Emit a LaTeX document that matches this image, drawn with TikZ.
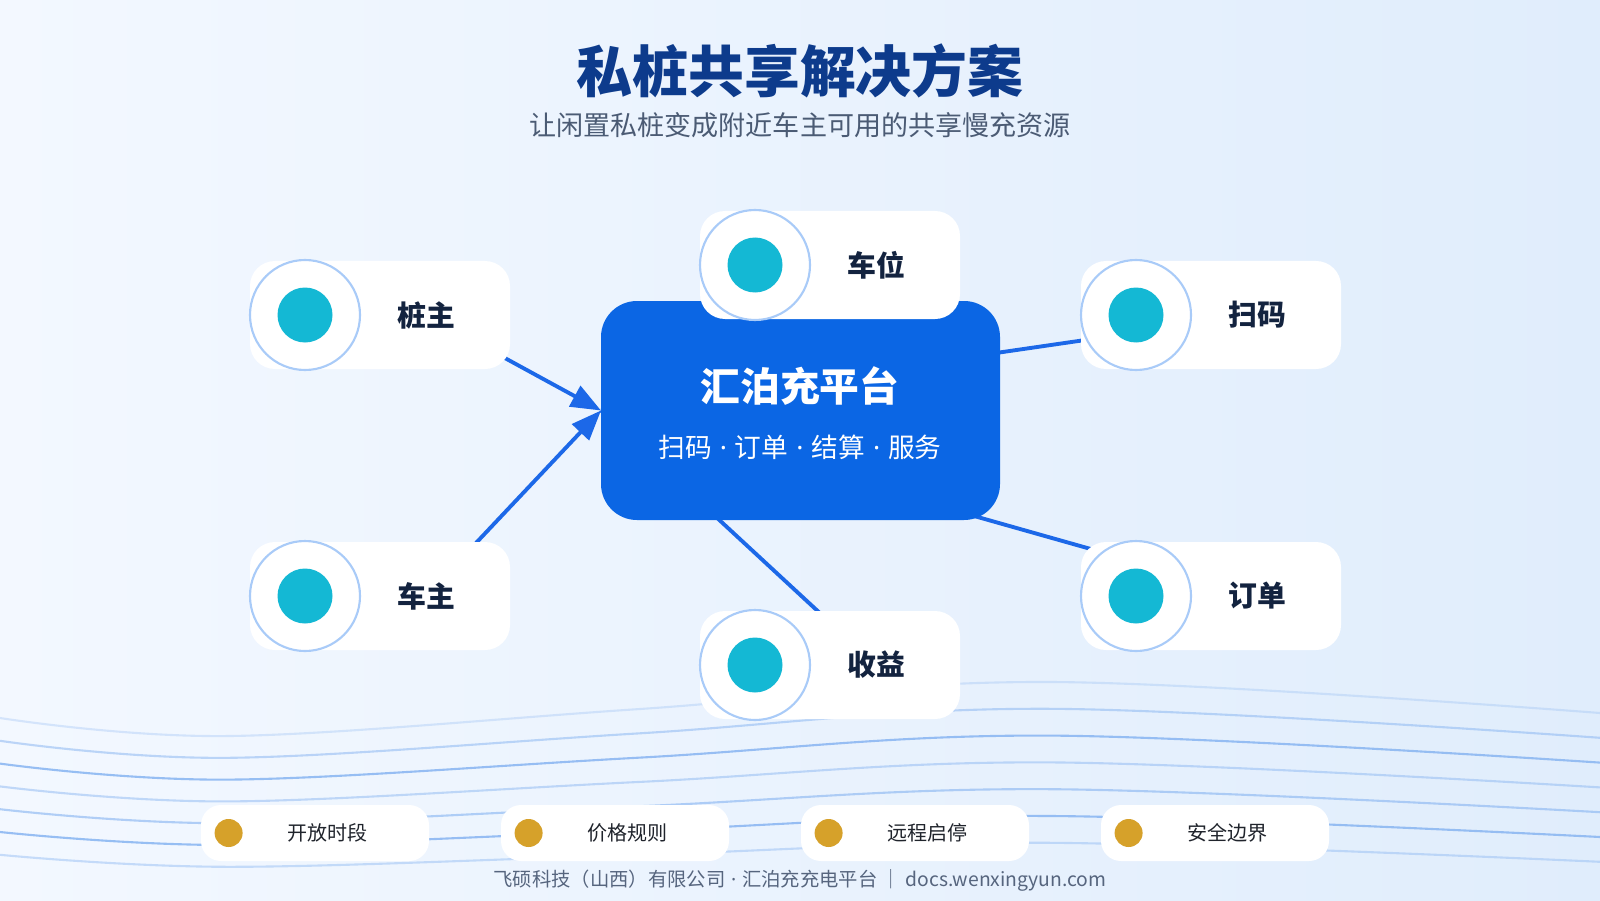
\documentclass[tikz,border=0pt]{standalone}
\usepackage{fontspec}
\setmainfont{Noto Sans CJK SC}
\newfontfamily\heavyfont{Noto Sans CJK SC Black}
\newfontfamily\latinfont{Noto Sans}
\usetikzlibrary{arrows.meta, positioning, calc}
\definecolor{HPnavy}{HTML}{0D3B8C}
\definecolor{HPsub}{HTML}{4B5B74}
\definecolor{HPblue}{HTML}{0B66E4}
\definecolor{HPedge}{HTML}{1C68E8}
\definecolor{HPring}{HTML}{A9CBF8}
\definecolor{HPteal}{HTML}{14B8D4}
\definecolor{HPink}{HTML}{13233F}
\definecolor{HPgold}{HTML}{D6A12A}
\definecolor{HPdark}{HTML}{20242C}
\definecolor{HPfoot}{HTML}{56657E}
\definecolor{HPwave}{HTML}{8DB8F2}
\definecolor{HPbgA}{HTML}{F3F8FF}
\definecolor{HPbgB}{HTML}{E0EDFC}
\newcommand{\sepdot}{{\latinfont\hspace{0.3em}·\hspace{0.3em}}}
\pgfdeclarelayer{back}
\pgfdeclarelayer{wire}
\pgfsetlayers{back,wire,main}

\begin{document}
\begin{tikzpicture}[
   card/.style={fill=white, rounded corners=0.25cm, minimum width=2.6cm,
      minimum height=1.08cm, inner sep=0pt, outer sep=0pt},
   ring/.style={circle, fill=white, draw=HPring, line width=0.6pt,
      minimum size=1.1cm, inner sep=0pt, outer sep=0pt},
   dot/.style={circle, fill=HPteal, minimum size=0.55cm, inner sep=0pt},
   cardlabel/.style={font=\heavyfont\fontsize{8.2}{10}\selectfont, text=HPink},
   pill/.style={fill=white, rounded corners=0.2cm, minimum width=2.28cm,
      minimum height=0.56cm, inner sep=0pt, outer sep=0pt},
   pilldot/.style={circle, fill=HPgold, minimum size=0.28cm, inner sep=0pt},
   pilltext/.style={font=\fontsize{5.7}{7}\selectfont, text=HPdark},
   link/.style={HPedge, line width=1.1pt},
   wave/.style={HPwave, line width=0.6pt},
]
   \useasboundingbox (0,0) rectangle (16,9);
   % Background and waves
   \begin{pgfonlayer}{back}
      \shade[left color=HPbgA, right color=HPbgB] (0,0) rectangle (16,9);
      \foreach \i/\op in {0/0.3,1/0.55,2/0.9,3/0.5,4/0.65,5/0.9,6/0.45}{
         \pgfmathsetmacro\ya{1.82-0.228*\i}
         \pgfmathsetmacro\yb{\ya-0.18+0.01*\i}
         \pgfmathsetmacro\yc{\ya+0.36-0.04*\i}
         \pgfmathsetmacro\ym{(\yb+\yc)/2}
         \pgfmathsetmacro\yd{\ya+0.05-0.02*\i}
         \draw[wave, opacity=\op] plot[smooth, tension=0.6]
            coordinates {(0,\ya) (2.3,\yb) (6.4,\ym) (10.5,\yc) (16,\yd)};
      }
   \end{pgfonlayer}
   % Title
   \node[font=\heavyfont\fontsize{15.9}{18}\selectfont, text=HPnavy] (title)
      at (8,8.29) {私桩共享解决方案};
   \node[font=\fontsize{7.7}{9}\selectfont, text=HPsub] (subtitle)
      at (8,7.745) {让闲置私桩变成附近车主可用的共享慢充资源};
   % Platform
   \node[fill=HPblue, rounded corners=0.36cm, minimum width=3.99cm,
      minimum height=2.19cm, inner sep=0pt, outer sep=0pt] (hub) at (8.005,4.895) {};
   \node[font=\bfseries\fontsize{11.3}{13}\selectfont, text=white] (hubtitle)
      at (8,5.14) {汇泊充平台};
   \node[font=\fontsize{7.6}{9}\selectfont, text=white] (hubsub)
      at (8,4.53) {扫码\sepdot 订单\sepdot 结算\sepdot 服务};
   % 桩主
   \node[card] (zhucard) at (3.80,5.85) {};
   \node[ring, anchor=west] (zhuring) at (zhucard.west) {};
   \node[dot] (zhudot) at (zhuring) {};
   \node[cardlabel] (zhulbl) at ([xshift=1.21cm]zhuring.center) {桩主};
   % 车位
   \node[card] (weicard) at (8.30,6.35) {};
   \node[ring, anchor=west] (weiring) at (weicard.west) {};
   \node[dot] (weidot) at (weiring) {};
   \node[cardlabel] (weilbl) at ([xshift=1.21cm]weiring.center) {车位};
   % 扫码
   \node[card] (scancard) at (12.11,5.85) {};
   \node[ring, anchor=west] (scanring) at (scancard.west) {};
   \node[dot] (scandot) at (scanring) {};
   \node[cardlabel] (scanlbl) at ([xshift=1.21cm]scanring.center) {扫码};
   % 车主
   \node[card] (ownercard) at (3.80,3.04) {};
   \node[ring, anchor=west] (ownerring) at (ownercard.west) {};
   \node[dot] (ownerdot) at (ownerring) {};
   \node[cardlabel] (ownerlbl) at ([xshift=1.21cm]ownerring.center) {车主};
   % 订单
   \node[card] (ordercard) at (12.11,3.04) {};
   \node[ring, anchor=west] (orderring) at (ordercard.west) {};
   \node[dot] (orderdot) at (orderring) {};
   \node[cardlabel] (orderlbl) at ([xshift=1.21cm]orderring.center) {订单};
   % 收益
   \node[card] (gaincard) at (8.30,2.35) {};
   \node[ring, anchor=west] (gainring) at (gaincard.west) {};
   \node[dot] (gaindot) at (gainring) {};
   \node[cardlabel] (gainlbl) at ([xshift=1.21cm]gainring.center) {收益};
   % Links, under the cards
   \begin{pgfonlayer}{wire}
      \draw[link, -{Triangle[length=0.3cm, width=0.23cm]}] (zhulbl.center) -- (hub.west);
      \draw[link, -{Triangle[length=0.3cm, width=0.23cm]}] (ownerlbl.center) -- (hub.west);
      \draw[link] (hub.west) -- (scanlbl.center);
      \draw[link] (hub.west) -- (orderlbl.center);
      \draw[link] (hub.west) -- (gainlbl.center);
   \end{pgfonlayer}
   % Rules
   \node[pill] (rule1) at (3.15,0.67) {};
   \node[pilldot] (rule1dot) at ([xshift=0.276cm]rule1.west) {};
   \node[pilltext] (rule1txt) at ([xshift=1.265cm]rule1.west) {开放时段};
   \node[pill] (rule2) at (6.15,0.67) {};
   \node[pilldot] (rule2dot) at ([xshift=0.276cm]rule2.west) {};
   \node[pilltext] (rule2txt) at ([xshift=1.265cm]rule2.west) {价格规则};
   \node[pill] (rule3) at (9.15,0.67) {};
   \node[pilldot] (rule3dot) at ([xshift=0.276cm]rule3.west) {};
   \node[pilltext] (rule3txt) at ([xshift=1.265cm]rule3.west) {远程启停};
   \node[pill] (rule4) at (12.15,0.67) {};
   \node[pilldot] (rule4dot) at ([xshift=0.276cm]rule4.west) {};
   \node[pilltext] (rule4txt) at ([xshift=1.265cm]rule4.west) {安全边界};
   % Footer
   \node[font=\fontsize{5.5}{7}\selectfont, text=HPfoot] (footer) at (8,0.194)
      {飞硕科技（山西）有限公司\sepdot 汇泊充充电平台 ｜ docs.wenxingyun.com};
\end{tikzpicture}
\end{document}
